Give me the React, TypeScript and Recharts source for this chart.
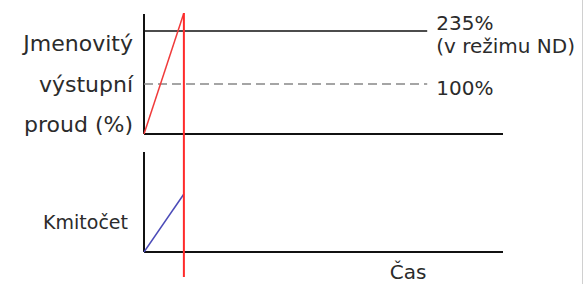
import { ComposedChart, Line, XAxis, YAxis, ReferenceLine } from "recharts";

// time axis (arbitrary units), switch-over moment at t = 1
const timeDomain = [0, 9];
const rampTimes = [0, 1];
const switchTime = 1;
const limitEnd = 7.1;

// output current ramp (%) and frequency ramp (% of panel)
const currentRamp = [0, 242];
const freqRamp = [0, 58];

// levels drawn on the current panel (schematic, not to scale)
const levelValues = [206, 100];
const levelLabels = [["235%", "(v režimu ND)"], ["100%"]];

const currentTitle = ["Jmenovitý", "výstupní", "proud (%)"];
const freqTitle = ["Kmitočet"];
const timeTitle = "Čas";

const data = rampTimes.map((t, i) => ({ t, current: currentRamp[i], freq: freqRamp[i] }));

const FONT = "'DejaVu Sans', sans-serif";
const TEXT = "#2b2b2b";

function block(
  lines: string[],
  dx: number,
  baselines: number[],
  anchor: "start" | "end" | "middle",
  size: number
) {
  return (props: any) => {
    const vb = props.viewBox || {};
    const x0 = (vb.x ?? 0) + (anchor === "end" ? 0 : vb.width ?? 0) + dx;
    const y0 = vb.y ?? 0;
    return (
      <text fontFamily={FONT} fontSize={size} fill={TEXT} textAnchor={anchor}>
        {lines.map((l, i) => (
          <tspan key={i} x={x0} y={y0 + baselines[i]}>
            {l}
          </tspan>
        ))}
      </text>
    );
  };
}

export default function App() {
  return (
    <div style={{ position: "absolute", left: 0, top: 0, width: 585, height: 284, background: "#fff" }}>
      <ComposedChart
        width={585}
        height={284}
        data={data}
        margin={{ top: 13, right: 82, bottom: 7, left: 144 }}
      >
        <XAxis type="number" dataKey="t" domain={timeDomain} hide />
        <YAxis yAxisId="cur" type="number" domain={[-286, 242]} hide allowDataOverflow />
        <YAxis yAxisId="freq" type="number" domain={[-25, 239]} hide allowDataOverflow />

        {/* current panel */}
        <ReferenceLine
          yAxisId="cur"
          segment={[{ x: 0, y: 0 }, { x: 0, y: 240 }]}
          stroke="#111"
          strokeWidth={2}
          label={{ content: block(currentTitle, -11, [37, 78, 118], "end", 22) }}
        />
        <ReferenceLine yAxisId="cur" segment={[{ x: 0, y: 0 }, { x: timeDomain[1], y: 0 }]} stroke="#111" strokeWidth={2} />
        <ReferenceLine
          yAxisId="cur"
          segment={[{ x: 0, y: levelValues[0] }, { x: limitEnd, y: levelValues[0] }]}
          stroke="#111"
          strokeWidth={1.5}
          label={{ content: block(levelLabels[0], 9, [-1, 22], "start", 20) }}
        />
        <ReferenceLine
          yAxisId="cur"
          segment={[{ x: 0, y: levelValues[1] }, { x: limitEnd, y: levelValues[1] }]}
          stroke="#888"
          strokeWidth={1.5}
          strokeDasharray="9 5"
          label={{ content: block(levelLabels[1], 9, [11], "start", 20) }}
        />
        <Line
          yAxisId="cur"
          dataKey="current"
          stroke="#f03a3a"
          strokeWidth={1.5}
          dot={false}
          isAnimationActive={false}
        />

        {/* frequency panel */}
        <ReferenceLine
          yAxisId="freq"
          segment={[{ x: 0, y: 0 }, { x: 0, y: 100 }]}
          stroke="#111"
          strokeWidth={2}
          label={{ content: block(freqTitle, -16, [77], "end", 19) }}
        />
        <ReferenceLine
          yAxisId="freq"
          segment={[{ x: 0, y: 0 }, { x: timeDomain[1], y: 0 }]}
          stroke="#111"
          strokeWidth={2}
          label={{ content: block([timeTitle], -95, [27], "middle", 20) }}
        />
        <Line
          yAxisId="freq"
          dataKey="freq"
          stroke="#4b4bb8"
          strokeWidth={1.5}
          dot={false}
          isAnimationActive={false}
        />

        <ReferenceLine yAxisId="cur" x={switchTime} stroke="#ff2a2a" strokeWidth={2} />
      </ComposedChart>
      <div style={{ position: "absolute", left: 582, top: 0, width: 1, height: 284, background: "#d0d0d0" }} />
    </div>
  );
}
